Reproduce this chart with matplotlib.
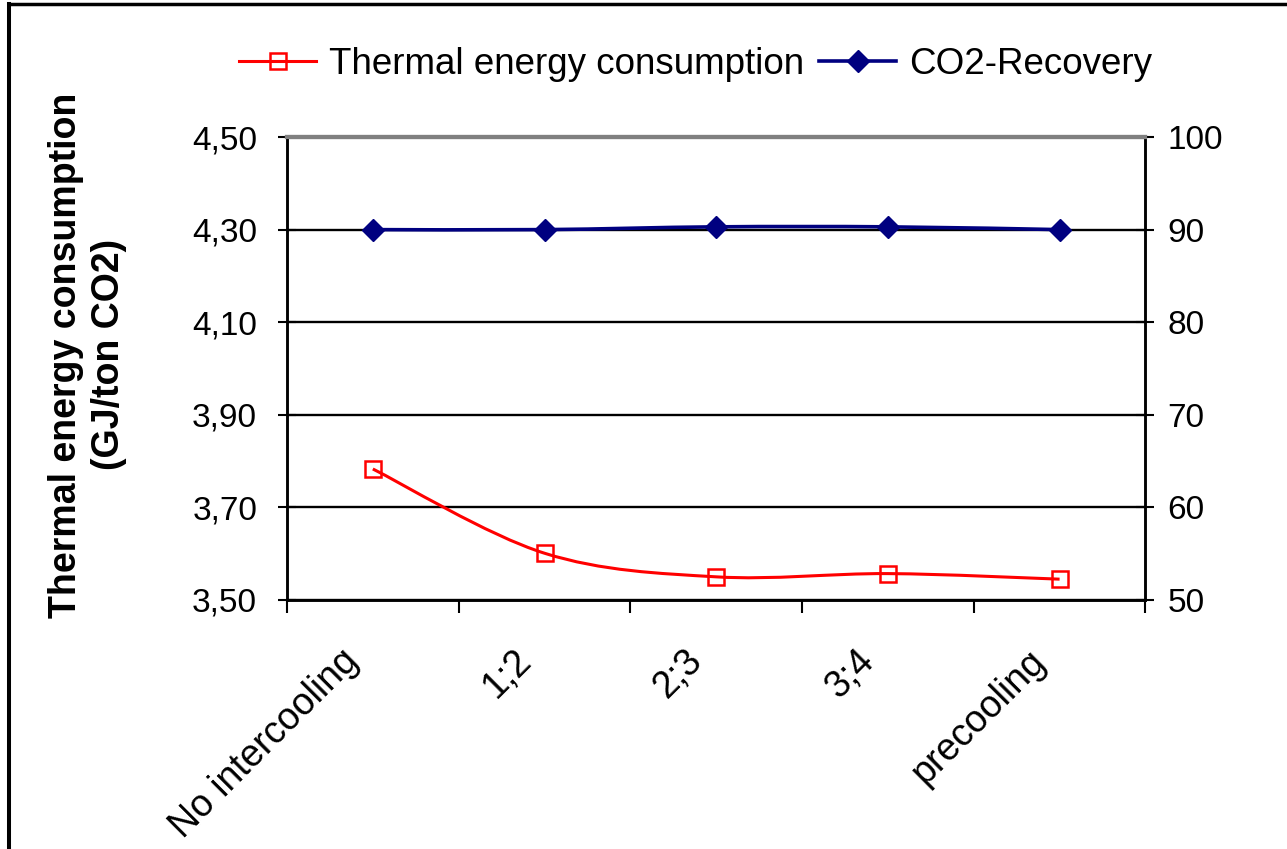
import matplotlib
matplotlib.use('Agg')
import matplotlib.pyplot as plt
import matplotlib.transforms as mtransforms
from matplotlib.path import Path
from matplotlib.patches import PathPatch
from matplotlib.lines import Line2D
import numpy as np

categories = ['No intercooling', '1;2', '2;3', '3;4', 'precooling']
thermal_energy = [3.783, 3.601, 3.550, 3.557, 3.545]   # GJ/ton CO2
co2_recovery = [90.0, 90.0, 90.3, 90.3, 90.0]          # %
left_ticks = [3.50, 3.70, 3.90, 4.10, 4.30, 4.50]
right_ticks = [50, 60, 70, 80, 90, 100]


def smooth_path(x, y):
    # Excel-like smoothed line: cubic bezier through the points
    pts = np.column_stack([x, y])
    padded = np.vstack([pts[0], pts, pts[-1]])
    verts = [pts[0]]
    codes = [Path.MOVETO]
    for i in range(len(pts) - 1):
        p0, p1, p2, p3 = padded[i], padded[i + 1], padded[i + 2], padded[i + 3]
        verts += [p1 + (p2 - p0) / 6, p2 - (p3 - p1) / 6, p2]
        codes += [Path.CURVE4] * 3
    return Path(verts, codes)


plt.rcParams['font.family'] = ['Liberation Sans', 'DejaVu Sans']

fig = plt.figure(figsize=(12.87, 8.49), dpi=100)
ax = fig.add_axes([0.223, 0.2933, 0.667, 0.5453])
ax2 = ax.twinx()

x = np.arange(len(categories)) + 0.5

# thermal energy on the left axis
ax.add_patch(PathPatch(smooth_path(x, thermal_energy), fill=False,
                       edgecolor='red', lw=2.2, zorder=3))
ax.plot(x, thermal_energy, ls='none', marker='s', ms=11, mfc='none',
        mec='red', mew=1.8, zorder=4)

# CO2 recovery on the right axis
ax2.add_patch(PathPatch(smooth_path(x, co2_recovery), fill=False,
                        edgecolor='#000080', lw=2.6, zorder=3))
ax2.plot(x, co2_recovery, ls='none', marker='D', ms=11, color='#000080', zorder=4)

ax.set_xlim(0, len(categories))
ax.set_ylim(left_ticks[0], left_ticks[-1])
ax2.set_ylim(right_ticks[0], right_ticks[-1])

ax.set_yticks(left_ticks)
ax.set_yticklabels([f'{v:.2f}'.replace('.', ',') for v in left_ticks])
ax2.set_yticks(right_ticks)
ax2.set_yticklabels([str(v) for v in right_ticks])

# category boundaries get the tick marks, names sit between them
ax.set_xticks(range(len(categories) + 1))
ax.set_xticklabels([])
offset = mtransforms.ScaledTranslation(-14 / 72, -40 / 72, fig.dpi_scale_trans)
for xi, name in zip(x, categories):
    ax.text(xi, 0, name, transform=ax.get_xaxis_transform() + offset,
            rotation=45, rotation_mode='anchor', ha='right', va='center',
            fontsize=27)

ax.tick_params(axis='y', direction='inout', length=13, width=1.5,
               labelsize=24, pad=15)
ax2.tick_params(axis='y', direction='inout', length=13, width=1.5,
                labelsize=24, pad=9.5)
ax.tick_params(axis='x', direction='out', length=9, width=1.5)

ax.grid(axis='y', color='black', lw=1.7)
ax.yaxis.get_gridlines()[-1].set_color('#808080')
ax.set_axisbelow(True)

for a in (ax, ax2):
    for side in ('left', 'right', 'bottom'):
        a.spines[side].set_color('black')
        a.spines[side].set_linewidth(1.8)
    a.spines['top'].set_color('#808080')
    a.spines['top'].set_linewidth(3)

fig.text(0.068, 0.582, 'Thermal energy consumption\n(GJ/ton CO2)',
         rotation=90, ha='center', va='center', fontsize=27,
         fontweight='bold', multialignment='center', linespacing=1.25)

handles = [
    Line2D([], [], color='red', lw=2.2, marker='s', ms=11, mfc='none', mec='red', mew=1.8),
    Line2D([], [], color='#000080', lw=2.6, marker='D', ms=11),
]
fig.legend(handles, ['Thermal energy consumption', 'CO2-Recovery'],
           loc='center', bbox_to_anchor=(0.5404, 0.924), ncol=2, frameon=False,
           fontsize=26.5, handlelength=2.1, handletextpad=0.35,
           columnspacing=0.4, borderpad=0)

# chart border (top and left edges)
fig.add_artist(Line2D([0.0068, 0.0068], [0, 0.995], transform=fig.transFigure,
                      color='black', lw=2.9))
fig.add_artist(Line2D([0.0068, 1], [0.995, 0.995], transform=fig.transFigure,
                      color='black', lw=2.5))

fig.savefig('out.png', dpi=100)
